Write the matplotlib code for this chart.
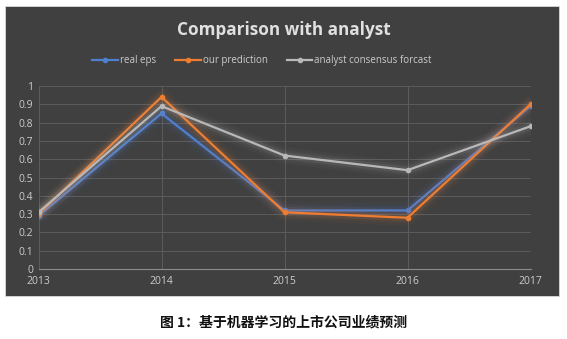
import matplotlib.pyplot as plt
from matplotlib.patches import Rectangle

years = ["2013", "2014", "2015", "2016", "2017"]
real_eps = [0.29, 0.85, 0.32, 0.32, 0.89]
our_prediction = [0.30, 0.94, 0.31, 0.28, 0.90]
analyst_forecast = [0.31, 0.89, 0.62, 0.54, 0.78]

series = [
    ("real eps", real_eps, "#4f7fd0"),
    ("our prediction", our_prediction, "#ef7d31"),
    ("analyst consensus forcast", analyst_forecast, "#b8b8b8"),
]

plt.rcParams["font.family"] = ["Noto Sans CJK SC", "DejaVu Sans"]
latin = ["Open Sans", "DejaVu Sans"]

fig = plt.figure(figsize=(5.67, 3.39), dpi=100)
fig.patch.set_facecolor("white")

# dark chart panel
W, H = 567, 339
fig.patches.append(Rectangle((5 / W, 1 - 296 / H), 554 / W, 290 / H,
                             transform=fig.transFigure, facecolor="#404040",
                             edgecolor="#d9d9d9", linewidth=0.6, zorder=-10))

ax = fig.add_axes([38.5 / W, 1 - 269 / H, 492 / W, 183 / H])
ax.set_facecolor("none")

x = list(range(len(years)))
for label, vals, color in series:
    # soft glow
    for lw, a in [(12, 0.04), (8, 0.06), (5, 0.1)]:
        ax.plot(x, vals, color=color, linewidth=lw, alpha=a,
                solid_capstyle="round", solid_joinstyle="round")
    ax.plot(x, vals, color=color, linewidth=1.6, marker="o", markersize=3,
            label=label, solid_joinstyle="miter")

ax.set_xlim(0, 4)
ax.set_ylim(0, 1)
ax.set_xticks(x)
ax.set_xticklabels(years, family=latin)
ax.set_yticks([i / 10 for i in range(11)])
ax.set_yticklabels(["0", "0.1", "0.2", "0.3", "0.4", "0.5", "0.6", "0.7", "0.8", "0.9", "1"],
                   family=latin)
ax.tick_params(colors="#cccccc", labelsize=7.5, length=0, pad=4)
ax.tick_params(axis="x", pad=5)
ax.grid(True, color="#5c5c5c", linewidth=0.7)
ax.set_axisbelow(True)
for s in ["top", "right", "left"]:
    ax.spines[s].set_visible(False)
ax.spines["bottom"].set_color("#8c8c8c")
ax.spines["bottom"].set_linewidth(0.8)

fig.text(0.5, 1 - 30 / H, "Comparison with analyst", ha="center", va="center",
         color="#e0e0e0", fontsize=12.3, fontweight="bold", family=latin)

leg = ax.legend(loc="center", bbox_to_anchor=(262 / W, 1 - 61 / H), bbox_transform=fig.transFigure,
                ncol=3, frameon=False, prop={"family": latin, "size": 7},
                handlelength=2.6, columnspacing=2.0, handletextpad=0.2)
for t in leg.get_texts():
    t.set_color("#cccccc")

fig.text(0.5, 1 - 322 / H, "图 1：基于机器学习的上市公司业绩预测", ha="center", va="center",
         color="#111111", fontsize=10, fontweight="bold")

fig.savefig("out.png", dpi=100, facecolor="white")
